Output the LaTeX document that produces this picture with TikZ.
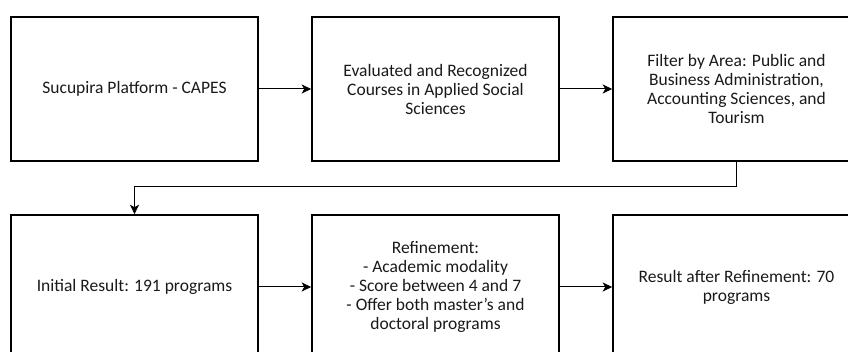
\documentclass[tikz,border=0pt]{standalone}
\usepackage{fontspec}
\setmainfont{Carlito}
\usetikzlibrary{arrows.meta}
\begin{document}
\begin{tikzpicture}[x=1pt,y=-1pt,
  stage/.style={draw=black, line width=1.6pt, rectangle, minimum width=247pt,
    minimum height=144pt, align=center, inner sep=0pt, text=black!90,
    font=\fontsize{17.5}{19}\selectfont},
  flow/.style={draw=black, line width=1pt, -{Stealth[length=9.5pt,width=9pt,inset=2.5pt]}}]
\useasboundingbox (0,0) rectangle (848,352);
% top row
\node[stage] (src)    at (134.5,89) {Sucupira Platform - CAPES};
\node[stage] (eval)   at (435.5,89) {Evaluated and Recognized\\Courses in Applied Social\\Sciences};
\node[stage] (filter) at (736.5,89) {Filter by Area: Public and\\Business Administration,\\Accounting Sciences, and\\Tourism};
% bottom row
\node[stage] (init)   at (134.5,287) {Initial Result: 191 programs};
\node[stage] (refine) at (435.5,287) {Refinement:\\- Academic modality\\- Score between 4 and 7\\- Offer both master’s and\\doctoral programs};
\node[stage] (final)  at (736.5,287) {Result after Refinement: 70\\programs};
% connectors
\draw[flow] (src) -- (eval);
\draw[flow] (eval) -- (filter);
\coordinate (turn) at (0,187);
\draw[flow] (filter.south) |- (turn -| filter.south) -- (turn -| init.north) -- (init.north);
\draw[flow] (init) -- (refine);
\draw[flow] (refine) -- (final);
\end{tikzpicture}
\end{document}
